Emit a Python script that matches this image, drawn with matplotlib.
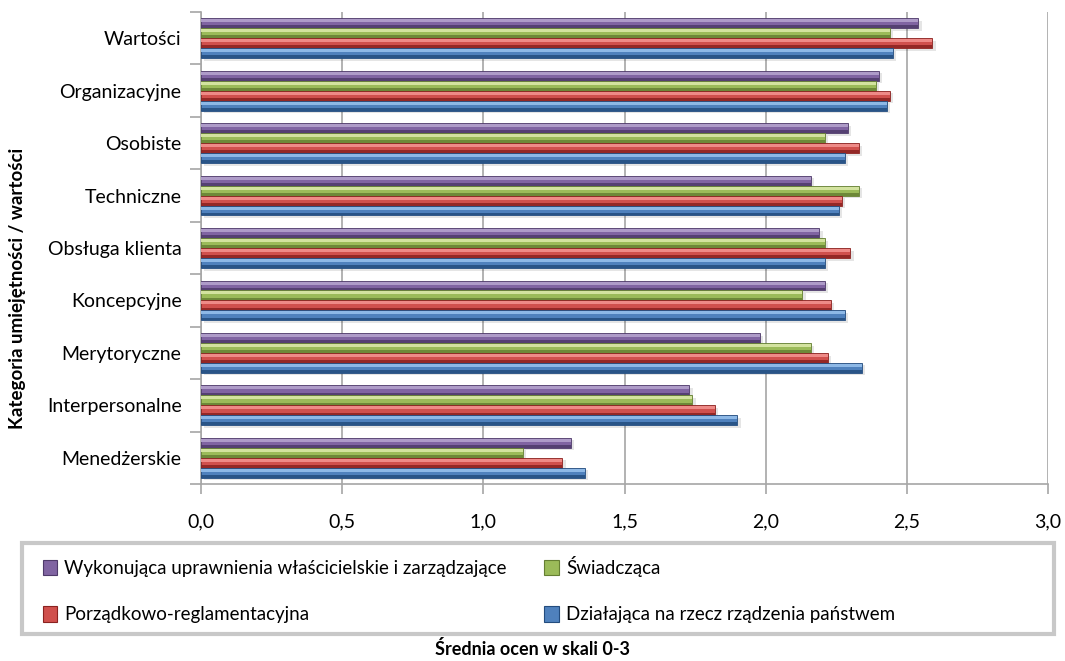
"""
Średnie oceny kategorii umiejętności / wartości według rodzaju administracji
Wykres słupkowy poziomy (grupowany)
"""
import numpy as np
import matplotlib
matplotlib.use('Agg')
import matplotlib.pyplot as plt
from matplotlib.patches import Patch, Rectangle
from matplotlib.ticker import MultipleLocator, FuncFormatter

plt.rcParams['font.family'] = ['Lato', 'DejaVu Sans']

# Kategorie (od góry do dołu)
kategorie = [
    'Wartości',
    'Organizacyjne',
    'Osobiste',
    'Techniczne',
    'Obsługa klienta',
    'Koncepcyjne',
    'Merytoryczne',
    'Interpersonalne',
    'Menedżerskie',
]

# Średnie oceny dla każdego rodzaju administracji
wlascicielska = [2.54, 2.40, 2.29, 2.16, 2.19, 2.21, 1.98, 1.73, 1.31]
swiadczaca = [2.44, 2.39, 2.21, 2.33, 2.21, 2.13, 2.16, 1.74, 1.14]
porzadkowa = [2.59, 2.44, 2.33, 2.27, 2.30, 2.23, 2.22, 1.82, 1.28]
rzadzenia = [2.45, 2.43, 2.28, 2.26, 2.21, 2.28, 2.34, 1.90, 1.36]

nazwy_serii = [
    'Wykonująca uprawnienia właścicielskie i zarządzające',
    'Świadcząca',
    'Porządkowo-reglamentacyjna',
    'Działająca na rzecz rządzenia państwem',
]

# (kolor główny, jasny, ciemny)
kolory = [
    ('#8064A2', '#AE9BC8', '#4E3A6A'),
    ('#9BBB59', '#D3E39F', '#657F33'),
    ('#D0504D', '#EE8A87', '#8A2220'),
    ('#4F81BD', '#8DB8E6', '#234C7E'),
]

fig = plt.figure(figsize=(10.65, 6.61), dpi=100)
ax = fig.add_axes([201 / 1065, 1 - 484 / 661, 847 / 1065, 472 / 661])

y = np.arange(len(kategorie))
h = 0.19
offsets = [-1.5 * h, -0.5 * h, 0.5 * h, 1.5 * h]
serie = [wlascicielska, swiadczaca, porzadkowa, rzadzenia]

for wartosci, off, (base, light, dark) in zip(serie, offsets, kolory):
    pos = y + off
    # cień pod słupkiem
    ax.barh(pos + 0.05, wartosci, height=h, left=0.012, color='#000000',
            alpha=0.10, zorder=2, linewidth=0)
    # słupek z efektem wypukłości
    ax.barh(pos, wartosci, height=h, color=base, edgecolor=dark,
            linewidth=0.6, zorder=3)
    ax.barh(pos - 0.25 * h, wartosci, height=0.3 * h, color=light,
            linewidth=0, zorder=4)
    ax.barh(pos + 0.36 * h, wartosci, height=0.28 * h, color=dark,
            linewidth=0, zorder=4, alpha=0.85)

ax.set_xlim(0, 3.0)
ax.set_ylim(len(kategorie) - 0.5, -0.5)

ax.xaxis.set_major_locator(MultipleLocator(0.5))
ax.xaxis.set_major_formatter(FuncFormatter(lambda v, p: f'{v:.1f}'.replace('.', ',')))
ax.grid(axis='x', color='#A6A6A6', linewidth=1.2, zorder=0)
ax.set_axisbelow(True)

ax.set_yticks(y)
ax.set_yticklabels(kategorie)
ax.set_yticks(np.arange(len(kategorie) + 1) - 0.5, minor=True)
ax.tick_params(axis='y', which='major', length=0, pad=14, labelsize=14)
ax.tick_params(axis='y', which='minor', length=8, color='#A6A6A6', width=1.2)
ax.tick_params(axis='x', length=7, color='#A6A6A6', width=1.2, pad=14,
               labelsize=14)

for s in ['top', 'right']:
    ax.spines[s].set_visible(False)
for s in ['left', 'bottom']:
    ax.spines[s].set_color('#A6A6A6')
    ax.spines[s].set_linewidth(1.2)

# Legenda w ramce pod wykresem (wypełniana kolumnami, więc kolejność 0, 2, 1, 3)
fig.patches.append(Rectangle((22 / 1065, 1 - 634 / 661), 1032 / 1065, 91 / 661,
                             transform=fig.transFigure, fill=False,
                             edgecolor='#C8C8C8', linewidth=3))
uchwyty = [Patch(facecolor=b, edgecolor=d, linewidth=0.8) for b, l, d in kolory]
kolejnosc = [0, 2, 1, 3]
fig.legend([uchwyty[i] for i in kolejnosc], [nazwy_serii[i] for i in kolejnosc],
           ncol=2, loc='upper left',
           bbox_to_anchor=(26 / 1065, 1 - 539 / 661), frameon=False,
           fontsize=13.5, handlelength=0.75, handleheight=0.9,
           handletextpad=0.4, columnspacing=2.0, labelspacing=1.55)

fig.text(0.5, 1 - 649 / 661, 'Średnia ocen w skali 0-3', ha='center',
         va='center', fontsize=13, fontweight='bold')
fig.text(18 / 1065, 1 - 288 / 661, 'Kategoria umiejętności / wartości',
         ha='center', va='center', rotation=90, fontsize=13.5, fontweight='bold')

plt.savefig('out.png', dpi=100)
